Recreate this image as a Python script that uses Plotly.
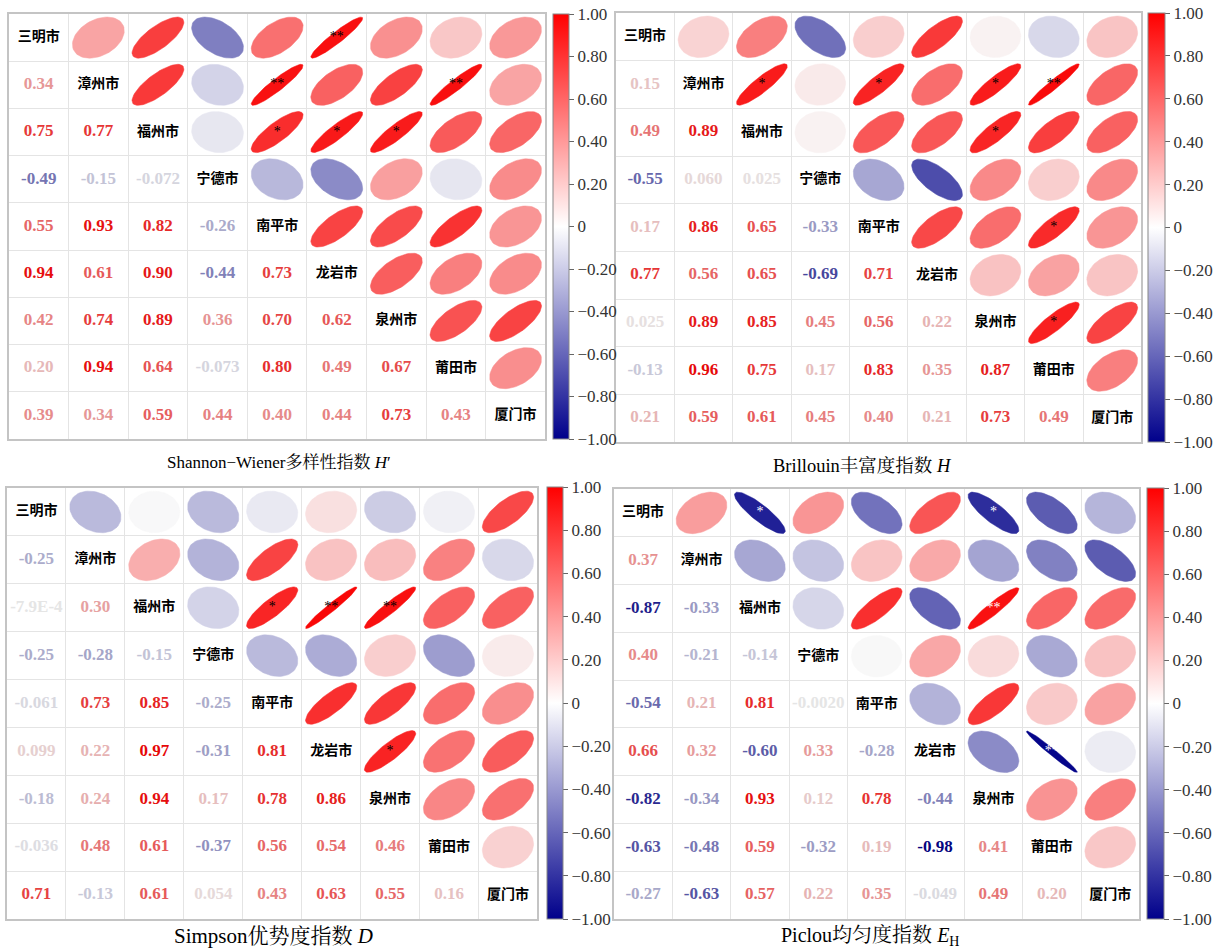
import math
import numpy as np
import plotly.graph_objects as go

# ---------------------------------------------------------------- data
cities = ["三明市", "漳州市", "福州市", "宁德市", "南平市", "龙岩市", "泉州市", "莆田市", "厦门市"]

# lower-triangle correlation coefficients, row by row (row i holds columns 0..i-1)
shannon_lower = [
    [0.34],
    [0.75, 0.77],
    [-0.49, -0.15, -0.072],
    [0.55, 0.93, 0.82, -0.26],
    [0.94, 0.61, 0.90, -0.44, 0.73],
    [0.42, 0.74, 0.89, 0.36, 0.70, 0.62],
    [0.20, 0.94, 0.64, -0.073, 0.80, 0.49, 0.67],
    [0.39, 0.34, 0.59, 0.44, 0.40, 0.44, 0.73, 0.43],
]
brillouin_lower = [
    [0.15],
    [0.49, 0.89],
    [-0.55, 0.060, 0.025],
    [0.17, 0.86, 0.65, -0.33],
    [0.77, 0.56, 0.65, -0.69, 0.71],
    [0.025, 0.89, 0.85, 0.45, 0.56, 0.22],
    [-0.13, 0.96, 0.75, 0.17, 0.83, 0.35, 0.87],
    [0.21, 0.59, 0.61, 0.45, 0.40, 0.21, 0.73, 0.49],
]
simpson_lower = [
    [-0.25],
    [-7.9e-4, 0.30],
    [-0.25, -0.28, -0.15],
    [-0.061, 0.73, 0.85, -0.25],
    [0.099, 0.22, 0.97, -0.31, 0.81],
    [-0.18, 0.24, 0.94, 0.17, 0.78, 0.86],
    [-0.036, 0.48, 0.61, -0.37, 0.56, 0.54, 0.46],
    [0.71, -0.13, 0.61, 0.054, 0.43, 0.63, 0.55, 0.16],
]
piclou_lower = [
    [0.37],
    [-0.87, -0.33],
    [0.40, -0.21, -0.14],
    [-0.54, 0.21, 0.81, -0.0020],
    [0.66, 0.32, -0.60, 0.33, -0.28],
    [-0.82, -0.34, 0.93, 0.12, 0.78, -0.44],
    [-0.63, -0.48, 0.59, -0.32, 0.19, -0.98, 0.41],
    [-0.27, -0.63, 0.57, 0.22, 0.35, -0.049, 0.49, 0.20],
]

# significance marks in the upper triangle: (row, column, mark)
shannon_sig = [(0, 5, "**"), (1, 4, "**"), (1, 7, "**"), (2, 4, "*"), (2, 5, "*"), (2, 6, "*")]
brillouin_sig = [(1, 2, "*"), (1, 4, "*"), (1, 6, "*"), (1, 7, "**"), (2, 6, "*"), (4, 7, "*"), (6, 7, "*")]
simpson_sig = [(2, 4, "*"), (2, 5, "**"), (2, 6, "**"), (5, 6, "*")]
piclou_sig = [(0, 2, "*"), (0, 6, "*"), (2, 6, "**"), (5, 7, "**")]

titles = [
    "Shannon−Wiener多样性指数 <i>H</i>′",
    "Brillouin丰富度指数 <i>H</i>",
    "Simpson优势度指数 <i>D</i>",
    "Piclou均匀度指数 <i>E</i><sub>H</sub>",
]

cbar_ticks = [1.0, 0.8, 0.6, 0.4, 0.2, 0.0, -0.2, -0.4, -0.6, -0.8, -1.0]
cbar_labels = ["1.00", "0.80", "0.60", "0.40", "0.20", "0",
               "−0.20", "−0.40", "−0.60", "−0.80", "−1.00"]

# ---------------------------------------------------------------- styling
W, H = 1214, 949
COLORSCALE = [[0.0, "#00008B"], [0.5, "#FFFFFF"], [1.0, "#FF0000"]]

# pixel boxes of each matrix panel: (left, right, top, bottom)
panel_px = [(9, 549, 14, 439), (620, 1149, 13, 442), (7, 541, 488, 919), (618, 1147, 489, 919)]
# colour bars: (left, thickness, top, bottom)
cbar_px = [(557, 16, 14, 439), (1156, 17, 13, 442), (551, 16, 487, 919), (1155, 17, 488, 919)]
# caption centres (x, y) and sizes
title_px = [(281, 462), (868, 465), (275, 936), (876, 936)]
title_size = [17, 18.5, 21, 20]
star_colors = ["black", "black", "black", "white"]


def hex_to_rgb(h):
    h = h.lstrip("#")
    return tuple(int(h[i:i + 2], 16) for i in (0, 2, 4))


def value_color(v, shade=1.0):
    t = (v + 1) / 2
    for (p0, c0), (p1, c1) in zip(COLORSCALE[:-1], COLORSCALE[1:]):
        if p0 <= t <= p1:
            f = (t - p0) / (p1 - p0) if p1 > p0 else 0
            a, b = hex_to_rgb(c0), hex_to_rgb(c1)
            rgb = [round((a[k] + (b[k] - a[k]) * f) * shade) for k in range(3)]
            return "rgb({},{},{})".format(*rgb)
    return COLORSCALE[-1][1]


def fmt(v):
    a = abs(v)
    if a == 0:
        return "0"
    if a < 0.001:
        m, e = "{:.1E}".format(v).split("E")
        return f"{m}E{int(e)}"
    digits = max(2, 2 - int(math.floor(math.log10(a))) - 1)
    return f"{v:.{digits}f}"


def full_matrix(lower):
    n = len(cities)
    m = np.eye(n)
    for i, row in enumerate(lower, start=1):
        for j, v in enumerate(row):
            m[i, j] = v
            m[j, i] = v
    return m


matrices = [full_matrix(x) for x in (shannon_lower, brillouin_lower, simpson_lower, piclou_lower)]
sigs = [shannon_sig, brillouin_sig, simpson_sig, piclou_sig]

fig = go.Figure()
n = len(cities)
HX, HY = 0.435, 0.435
tt = np.linspace(0, 2 * np.pi, 73)

for p, (mat, sig) in enumerate(zip(matrices, sigs)):
    xa = "x" if p == 0 else f"x{p + 1}"
    ya = "y" if p == 0 else f"y{p + 1}"

    # ellipses in the upper triangle
    for i in range(n):
        for j in range(i + 1, n):
            r = float(mat[i, j])
            d = math.acos(max(-1.0, min(1.0, r)))
            ex = (j + 0.5) + HX * np.cos(tt + d / 2)
            ey = (i + 0.5) - HY * np.cos(tt - d / 2)
            col = value_color(r, 0.975)
            fig.add_trace(go.Scatter(
                x=ex, y=ey, xaxis=xa, yaxis=ya, mode="lines", fill="toself",
                fillcolor=col, line=dict(color=col, width=0.5),
                hoverinfo="skip", showlegend=False))

    # coefficients in the lower triangle
    lx, ly, lt, lc = [], [], [], []
    for i in range(n):
        for j in range(i):
            v = float(mat[i, j])
            lx.append(j + 0.5)
            ly.append(i + 0.5)
            lt.append(fmt(v))
            lc.append(value_color(v, 0.9))
    fig.add_trace(go.Scatter(
        x=lx, y=ly, xaxis=xa, yaxis=ya, mode="text", text=lt,
        textfont=dict(family="Liberation Serif", size=17, color=lc, weight="bold"),
        hoverinfo="skip", showlegend=False))

    # city names on the diagonal
    fig.add_trace(go.Scatter(
        x=[k + 0.5 for k in range(n)], y=[k + 0.5 for k in range(n)],
        xaxis=xa, yaxis=ya, mode="text", text=cities,
        textfont=dict(family="Noto Sans CJK SC", size=14, color="black", weight="bold"),
        hoverinfo="skip", showlegend=False))

    # significance stars
    fig.add_trace(go.Scatter(
        x=[c + 0.5 for _, c, _ in sig], y=[r + 0.5 for r, _, _ in sig],
        xaxis=xa, yaxis=ya, mode="text", text=[s for _, _, s in sig],
        textfont=dict(family="Liberation Serif", size=14, color=star_colors[p]),
        hoverinfo="skip", showlegend=False))

    # colour bar
    cx0, cth, ct, cb = cbar_px[p]
    cax = "coloraxis" if p == 0 else f"coloraxis{p + 1}"
    fig.add_trace(go.Scatter(
        x=[None], y=[None], xaxis=xa, yaxis=ya, mode="markers",
        marker=dict(color=[-1, 1], coloraxis=cax, size=1),
        hoverinfo="skip", showlegend=False))
    fig.update_layout(**{cax: dict(
        cmin=-1, cmax=1, colorscale=COLORSCALE,
        colorbar=dict(
            x=cx0 / W, xanchor="left", xpad=0, ypad=0,
            y=1 - ct / H, yanchor="top", lenmode="pixels", len=cb - ct,
            thickness=cth, outlinewidth=1, outlinecolor="#888888",
            tickmode="array", tickvals=cbar_ticks, ticktext=cbar_labels,
            ticks="outside", ticklen=5, tickcolor="#666666",
            tickfont=dict(family="Liberation Serif", size=17, color="#333333"),
        ))})

    # axes / grid
    l, rr, t, b = panel_px[p]
    axis_common = dict(
        showticklabels=False, ticks="", tick0=0, dtick=1, showgrid=True,
        gridcolor="#e4e4e4", gridwidth=1, zeroline=False, showline=True,
        mirror=True, linecolor="#c4c4c4", linewidth=2, fixedrange=True)
    xkey = "xaxis" if p == 0 else f"xaxis{p + 1}"
    ykey = "yaxis" if p == 0 else f"yaxis{p + 1}"
    fig.update_layout(**{
        xkey: dict(domain=[l / W, rr / W], range=[0, n], anchor=ya, **axis_common),
        ykey: dict(domain=[1 - b / H, 1 - t / H], range=[n, 0], anchor=xa, **axis_common),
    })

    # panel caption
    tx, ty = title_px[p]
    fig.add_annotation(
        x=tx / W, y=1 - ty / H, xref="paper", yref="paper", text=titles[p],
        showarrow=False, xanchor="center", yanchor="middle",
        font=dict(family="Liberation Serif, Noto Serif CJK SC, Noto Sans CJK SC",
                  size=title_size[p], color="black"))

fig.update_layout(
    width=W, height=H, margin=dict(l=0, r=0, t=0, b=0),
    paper_bgcolor="white", plot_bgcolor="white", showlegend=False,
)

fig.write_html("out.html")
